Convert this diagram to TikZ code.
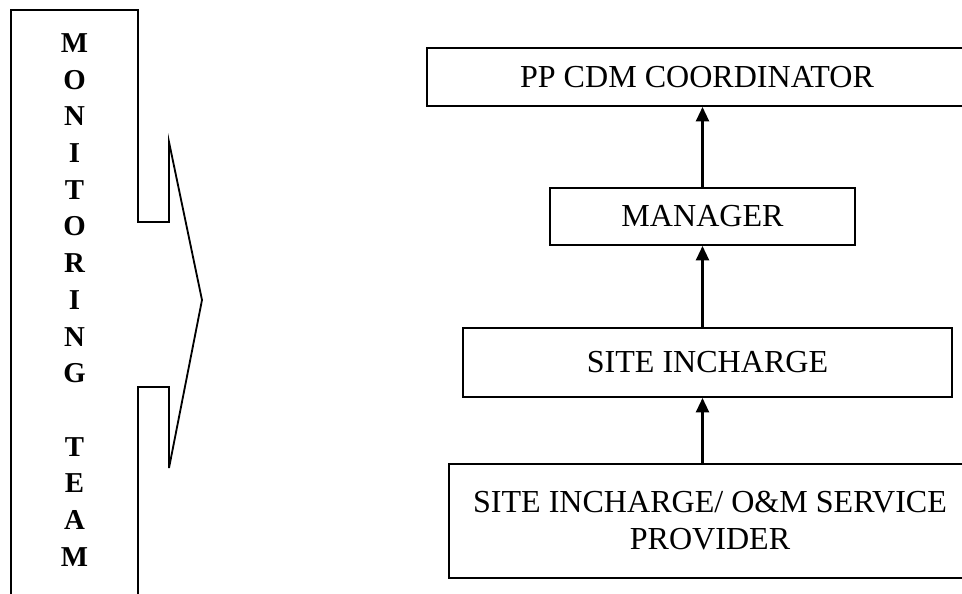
\documentclass[tikz,border=0pt]{standalone}
\usepackage{fontspec}
\setmainfont{Liberation Serif}
\usepackage{tikz}
\usetikzlibrary{arrows,arrows.meta,positioning,calc}
\tikzstyle{box}=[draw, line width=1.3pt, align=center, inner sep=0pt, font=\fontsize{22.8}{26.3}\selectfont]
\tikzstyle{flow}=[line width=1.9pt, -{Triangle[length=0.36cm, width=0.32cm]}]
\tikzstyle{letter}=[inner sep=0pt, font=\fontsize{20.5}{24}\selectfont\bfseries]

\begin{document}
\begin{tikzpicture}

\useasboundingbox (0,0) rectangle (24.05,-14.85);

% monitoring team
\draw[line width=1.3pt] (0.275,-15) -- (0.275,-0.25) -- (3.45,-0.25) -- (3.45,-5.55) -- (4.225,-5.55) -- (4.225,-3.55)
  -- (5.05,-7.5) -- (4.225,-11.7) -- (4.225,-9.675) -- (3.45,-9.675) -- (3.45,-15);
\foreach \l [count=\i from 0] in {M,O,N,I,T,O,R,I,N,G,{},T,E,A,M}
  \node[letter] (l\i) at (1.8625,-1.075-0.9175*\i) {\l};

% chain
\node[box, minimum width=13.5cm, minimum height=1.45cm] (coord) at (17.425,-1.925) {PP CDM COORDINATOR};
\node[box, minimum width=7.625cm, minimum height=1.425cm] (manager) at (17.5625,-5.4125) {MANAGER};
\node[box, minimum width=12.225cm, minimum height=1.725cm] (site) at (17.6875,-9.0625) {SITE INCHARGE};
\node[box, minimum width=13.05cm, minimum height=2.85cm] (provider) at (17.75,-13.025) {SITE INCHARGE/ O\&M SERVICE\\PROVIDER};

\draw[flow] (provider.north -| manager) -- (site.south -| manager);
\draw[flow] (site.north -| manager) -- (manager.south);
\draw[flow] (manager.north) -- (coord.south -| manager);

\end{tikzpicture}
\end{document}
